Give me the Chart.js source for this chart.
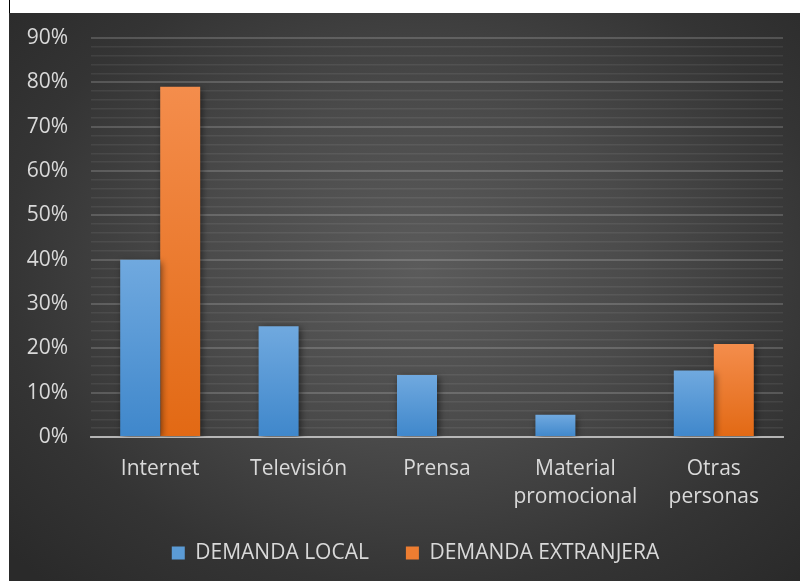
<!DOCTYPE html>
<html>
<head>
<meta charset="utf-8">
<script src="https://cdn.jsdelivr.net/npm/chart.js@4/dist/chart.umd.min.js"></script>
<style>
  html, body { margin: 0; padding: 0; background: #ffffff; width: 800px; height: 581px; overflow: hidden; }
  #frame { position: absolute; left: 9px; top: 13px; width: 791px; height: 568px;
    background: radial-gradient(ellipse 70% 75% at 52% 45%, #5b5b5b 0%, #4a4a4a 40%, #343434 75%, #2a2a2a 100%); }
  #tick { position: absolute; left: 9px; top: 0; width: 1px; height: 13px; background: #000; }
  canvas { display: block; }
</style>
</head>
<body>
<div id="tick"></div>
<div id="frame"><canvas id="c" width="791" height="568"></canvas></div>
<script>
const categories = ['Internet', 'Televisión', 'Prensa', ['Material', 'promocional'], ['Otras', 'personas']];
const demandaLocal = [40, 25, 14, 5, 15];
const demandaExtranjera = [79, null, null, null, 21];
const seriesNames = ['DEMANDA LOCAL', 'DEMANDA EXTRANJERA'];

const FONT = "'Open Sans', 'Noto Sans', sans-serif";
const TXT = '#d9d9d9';

function barGradient(top, bottom) {
  return function (ctx) {
    const chart = ctx.chart;
    const ys = chart.scales && chart.scales.y;
    if (!ys || ctx.type !== 'data' || ctx.raw == null) return bottom;
    const yTop = ys.getPixelForValue(ctx.raw);
    const yBase = ys.getPixelForValue(0);
    if (!isFinite(yTop) || !isFinite(yBase) || yTop === yBase) return bottom;
    const g = chart.ctx.createLinearGradient(0, yTop, 0, yBase);
    g.addColorStop(0, top);
    g.addColorStop(1, bottom);
    return g;
  };
}

const shadowPlugin = {
  id: 'barShadow',
  beforeDatasetsDraw(chart) {
    const c = chart.ctx;
    c.save();
    c.shadowColor = 'rgba(0,0,0,0.55)';
    c.shadowBlur = 7;
    c.shadowOffsetX = 2;
    c.shadowOffsetY = 2;
  },
  afterDatasetsDraw(chart) {
    chart.ctx.restore();
  }
};

function noLabelClip(scale) { scale._computeLabelArea = function () { return undefined; }; }

new Chart(document.getElementById('c'), {
  type: 'bar',
  data: {
    labels: categories,
    datasets: [
      { label: seriesNames[0], data: demandaLocal,
        backgroundColor: barGradient('#70a9df', '#3f87cb'),
        borderWidth: 0 },
      { label: seriesNames[1], data: demandaExtranjera,
        backgroundColor: barGradient('#f48d4c', '#e26914'),
        borderWidth: 0 }
    ]
  },
  plugins: [shadowPlugin],
  options: {
    responsive: false,
    animation: false,
    devicePixelRatio: 1,
    categoryPercentage: 0.578,
    barPercentage: 1.0,
    layout: { padding: { left: 39, right: 17, top: 25, bottom: 7.5 } },
    plugins: {
      tooltip: { enabled: false },
      legend: {
        position: 'bottom',
        labels: {
          color: TXT,
          font: { family: FONT, size: 21 },
          boxWidth: 13, boxHeight: 13,
          padding: 37,
          generateLabels(chart) {
            const cols = ['#5b9bd5', '#ed7d31'];
            return chart.data.datasets.map((d, i) => ({
              text: d.label, fillStyle: cols[i], strokeStyle: cols[i], lineWidth: 0,
              fontColor: TXT, datasetIndex: i, hidden: false
            }));
          }
        }
      }
    },
    scales: {
      x: {
        z: 1,
        afterFit(scale) { scale.height = 68.5; noLabelClip(scale); },
        grid: { display: false, drawTicks: false },
        border: { display: true, color: 'rgba(205,205,205,0.8)', width: 2 },
        ticks: { color: TXT, font: { family: FONT, size: 21, lineHeight: 1.333 }, padding: 18, maxRotation: 0, autoSkip: false }
      },
      y: {
        min: 0, max: 90,
        afterFit(scale) { scale.width = 43; scale.paddingTop = 0; scale.paddingBottom = 0; noLabelClip(scale); },
        grid: {
          drawTicks: false,
          color: (ctx) => (ctx.tick && ctx.tick.value % 10 === 0) ? 'rgba(255,255,255,0.17)' : 'rgba(255,255,255,0.07)',
          lineWidth: (ctx) => (ctx.tick && ctx.tick.value % 10 === 0) ? 2 : 1.5
        },
        border: { display: false },
        ticks: {
          stepSize: 2, autoSkip: false,
          color: TXT, font: { family: FONT, size: 21 }, padding: 23,
          callback: (v) => (v % 10 === 0 ? v + '%' : '')
        }
      }
    }
  }
});
</script>
</body>
</html>
